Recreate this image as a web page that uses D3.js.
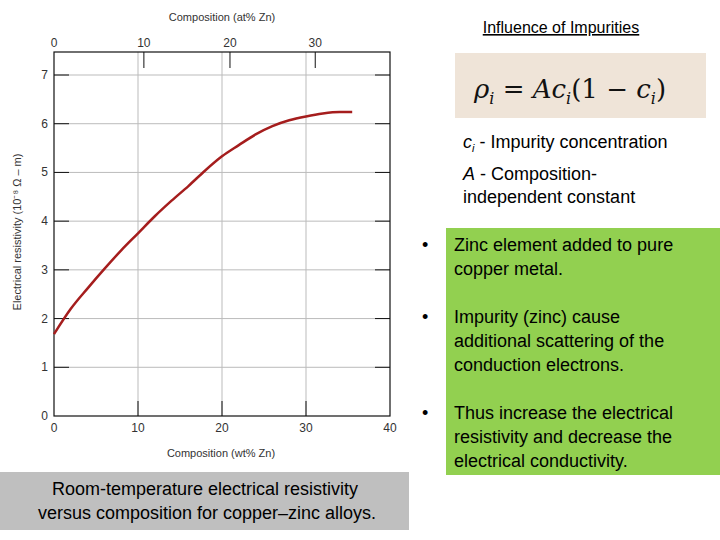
<!DOCTYPE html>
<html><head><meta charset="utf-8">
<script src="https://cdn.jsdelivr.net/npm/d3@7"></script>
<style>body{margin:0;background:#fff}svg{display:block}</style>
</head><body>
<svg id="c" width="720" height="540"></svg>
<script>
const wtPct = [0,2,4,6,8,10,12,14,16,18,20,22,24,26,28,30,32,34,35.5];
const resistivity = [1.68,2.2,2.62,3.02,3.4,3.75,4.1,4.42,4.72,5.04,5.33,5.56,5.78,5.95,6.07,6.15,6.21,6.24,6.24];
const xTicks = [0,10,20,30,40];
const yTicks = [0,1,2,3,4,5,6,7];
const atTicks = [0,10,20,30];
const atInWt = [0,10.7,20.95,31.1];
const bullets = [
 ["Zinc element added to pure","copper metal."],
 ["Impurity (zinc) cause","additional scattering of the","conduction electrons."],
 ["Thus increase the electrical","resistivity and decrease the","electrical conductivity."]
];

const svg = d3.select("#c");
const x = d3.scaleLinear().domain([0,40]).range([54,390]);
const y = d3.scaleLinear().domain([0,7]).range([416,75]);
const topY = 52;
const at = d3.scaleLinear().domain(atTicks).range(atInWt.map(v=>x(v)));
const g = svg.append("g");
g.selectAll(".gy").data(yTicks.slice(1)).join("line").attr("x1",x(0)).attr("x2",x(40))
 .attr("y1",d=>y(d)).attr("y2",d=>y(d)).attr("stroke","#bbb").attr("stroke-width",1);
g.selectAll(".gx").data([10,20,30]).join("line").attr("y1",topY).attr("y2",y(0))
 .attr("x1",d=>x(d)).attr("x2",d=>x(d)).attr("stroke","#bbb").attr("stroke-width",1);
yTicks.slice(1).forEach(d=>{
 g.append("line").attr("x1",x(0)).attr("x2",x(0)+15).attr("y1",y(d)).attr("y2",y(d)).attr("stroke","#111");
 g.append("line").attr("x1",x(40)-15).attr("x2",x(40)).attr("y1",y(d)).attr("y2",y(d)).attr("stroke","#111");
});
[10,20,30].forEach(d=>g.append("line").attr("x1",x(d)).attr("x2",x(d)).attr("y1",y(0)).attr("y2",y(0)-15).attr("stroke","#111"));
[10,20,30].forEach(d=>g.append("line").attr("x1",at(d)).attr("x2",at(d)).attr("y1",topY).attr("y2",topY+16).attr("stroke","#111"));
g.append("rect").attr("x",x(0)).attr("y",topY).attr("width",x(40)-x(0)).attr("height",y(0)-topY)
 .attr("fill","none").attr("stroke","#111").attr("stroke-width",1.2);
const tf = "font-family:Arial,'Liberation Sans',sans-serif;font-size:12px;fill:#333";
g.selectAll(".xt").data(xTicks).join("text").attr("x",d=>x(d)).attr("y",432).attr("text-anchor","middle").attr("style",tf).text(d=>d);
g.selectAll(".yt").data(yTicks).join("text").attr("x",48).attr("y",d=>y(d)+4).attr("text-anchor","end").attr("style",tf).text(d=>d);
g.selectAll(".at").data(atTicks).join("text").attr("x",d=>at(d)).attr("y",47).attr("text-anchor","middle").attr("style",tf).text(d=>d);
g.append("text").attr("x",221).attr("y",457).attr("text-anchor","middle").attr("style",tf.replace("12px","11px")).text("Composition (wt% Zn)");
g.append("text").attr("x",222).attr("y",21).attr("text-anchor","middle").attr("style",tf.replace("12px","11px")).text("Composition (at% Zn)");
g.append("text").attr("transform","translate(21,232) rotate(-90)").attr("text-anchor","middle").attr("style",tf.replace("12px","11px"))
 .text("Electrical resistivity (10⁻⁸ Ω – m)");
const line = d3.line().x((d,i)=>x(wtPct[i])).y(d=>y(d)).curve(d3.curveMonotoneX);
g.append("path").attr("d",line(resistivity)).attr("fill","none").attr("stroke","#a51d1d").attr("stroke-width",2.5);

const f = "font-family:Arial,'Liberation Sans',sans-serif;fill:#000";
svg.append("text").attr("x",561).attr("y",33).attr("text-anchor","middle").attr("style",f+";font-size:16px;text-decoration:underline").text("Influence of Impurities");
svg.append("rect").attr("x",455).attr("y",53).attr("width",251).attr("height",65).attr("fill","#efe4d8");
const eq = svg.append("text").attr("x",474).attr("y",98).attr("style","font-family:'DejaVu Serif','Liberation Serif',serif;font-size:26px;fill:#111");
eq.append("tspan").attr("font-style","italic").text("ρ");
eq.append("tspan").attr("font-style","italic").attr("font-size","16px").attr("dy",6).text("i");
eq.append("tspan").attr("dy",-6).text(" = ");
eq.append("tspan").attr("font-style","italic").text("Ac");
eq.append("tspan").attr("font-style","italic").attr("font-size","16px").attr("dy",6).text("i");
eq.append("tspan").attr("dy",-6).text("(1 − ");
eq.append("tspan").attr("font-style","italic").text("c");
eq.append("tspan").attr("font-style","italic").attr("font-size","16px").attr("dy",6).text("i");
eq.append("tspan").attr("dy",-6).text(")");
const t1 = svg.append("text").attr("x",463).attr("y",148).attr("style",f+";font-size:18px");
t1.append("tspan").attr("font-style","italic").text("c");
t1.append("tspan").attr("font-style","italic").attr("font-size","11px").attr("dy",4).text("i");
t1.append("tspan").attr("dy",-4).text(" - Impurity concentration");
const t2 = svg.append("text").attr("x",463).attr("y",180).attr("style",f+";font-size:18px");
t2.append("tspan").attr("font-style","italic").text("A");
t2.append("tspan").text("  - Composition-");
svg.append("text").attr("x",463).attr("y",203).attr("style",f+";font-size:18px").text("independent  constant");

svg.append("rect").attr("x",446).attr("y",228).attr("width",274).attr("height",247).attr("fill","#92d050");
const starts=[251,323,419];
bullets.forEach((b,i)=>{
 svg.append("text").attr("x",422).attr("y",starts[i]).attr("style",f+";font-size:18px").text("•");
 b.forEach((l,j)=>svg.append("text").attr("x",454).attr("y",starts[i]+j*24).attr("style",f+";font-size:18px").text(l));
});
svg.append("rect").attr("x",0).attr("y",472).attr("width",409).attr("height",58).attr("fill","#bfbfbf");
svg.append("text").attr("x",205).attr("y",495).attr("text-anchor","middle").attr("style",f+";font-size:18px").text("Room-temperature electrical resistivity");
svg.append("text").attr("x",207).attr("y",519).attr("text-anchor","middle").attr("style",f+";font-size:18px").text("versus composition for copper–zinc alloys.");
</script>
</body></html>
